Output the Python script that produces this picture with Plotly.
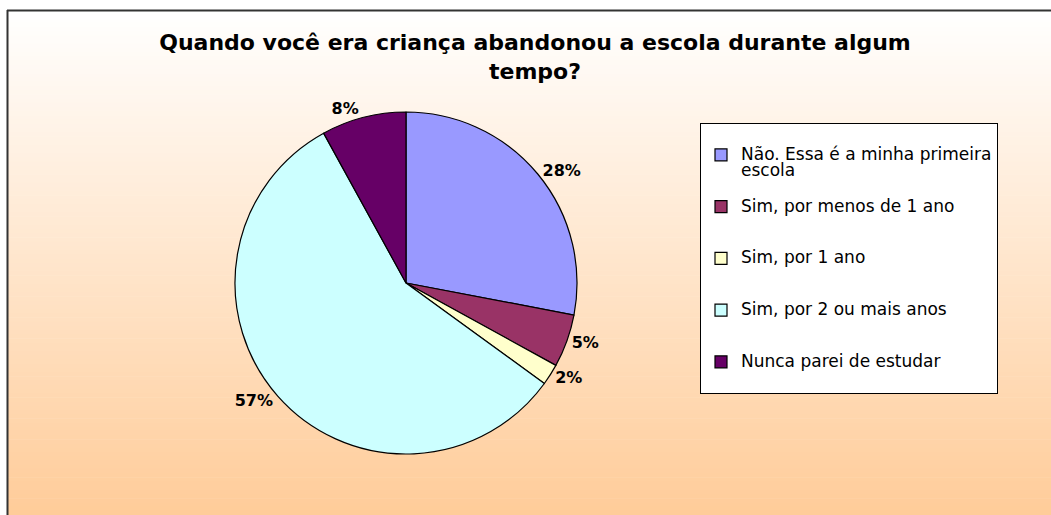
import plotly.graph_objects as go

# ---- data ----
categories = [
    "Não. Essa é a minha primeira<br>escola",
    "Sim, por menos de 1 ano",
    "Sim, por 1 ano",
    "Sim, por 2 ou mais anos",
    "Nunca parei de estudar",
]
values = [28, 5, 2, 57, 8]
colors = ["#9999FF", "#993366", "#FFFFCC", "#CCFFFF", "#660066"]
title_text = "Quando você era criança abandonou a escola durante algum<br>tempo?"

W, H = 1051, 515
NB = "\u00a0"
LEG_TXT = 17

# legend labels: pad with blank lines so entries are spaced like the original
span = "<span style='font-size:%spx'>" % LEG_TXT
legend_labels = []
for c in categories:
    if "<br>" in c:
        legend_labels.append(NB + "<br>" + span + c.replace("<br>", "</span><br>" + span) + "</span>")
    else:
        legend_labels.append(NB + "<br>" + span + c + "</span><br>" + NB)

# pie geometry (pixels)
cx, cy, d = 406, 283, 342

fig = go.Figure()
fig.add_trace(go.Pie(
    labels=legend_labels,
    values=values,
    sort=False,
    direction="clockwise",
    rotation=0,
    marker=dict(colors=colors, line=dict(color="black", width=1.2)),
    textinfo="percent",
    textposition="outside",
    textfont=dict(family="DejaVu Sans", size=16, color="black", weight="bold"),
    domain=dict(x=[(cx - d / 2) / W, (cx + d / 2) / W],
                y=[(H - cy - d / 2) / H, (H - cy + d / 2) / H]),
    hoverinfo="label+percent",
))

# background gradient (white -> light orange) below the top border
shapes = []
top_px = 10
n = 120
c0 = (255, 255, 255)
c1 = (255, 204, 153)
for i in range(n):
    y0p = top_px + (H - top_px) * i / n
    y1p = top_px + (H - top_px) * (i + 1) / n + 0.6
    t = (i + 0.5) / n
    col = tuple(round(a + (b - a) * t) for a, b in zip(c0, c1))
    shapes.append(dict(type="rect", xref="paper", yref="paper", layer="below",
                       x0=7 / W, x1=1.0, y0=1 - y1p / H, y1=1 - y0p / H,
                       fillcolor="rgb(%d,%d,%d)" % col, line=dict(width=0)))
# chart area border (top and left)
shapes.append(dict(type="line", xref="paper", yref="paper", layer="above",
                   x0=7 / W, x1=1.0, y0=1 - 10.5 / H, y1=1 - 10.5 / H,
                   line=dict(color="#333333", width=2)))
shapes.append(dict(type="line", xref="paper", yref="paper", layer="above",
                   x0=7.5 / W, x1=7.5 / W, y0=0, y1=1 - 10 / H,
                   line=dict(color="#333333", width=2)))

fig.update_layout(
    width=W, height=H,
    margin=dict(l=0, r=0, t=0, b=0),
    paper_bgcolor="white",
    plot_bgcolor="rgba(0,0,0,0)",
    shapes=shapes,
    title=dict(text=title_text, x=535 / W, xanchor="center",
               y=1 - 50 / H, yanchor="top", yref="container",
               font=dict(family="DejaVu Sans", size=22, color="black", weight="bold")),
    legend=dict(x=700 / W, xanchor="left", y=1 - 123 / H, yanchor="top",
                bgcolor="white", bordercolor="black", borderwidth=1,
                font=dict(family="DejaVu Sans", size=12.5, color="black"),
                itemwidth=30, traceorder="normal"),
    showlegend=True,
)

fig.write_html("out.html", config={"displayModeBar": False},
               post_script="document.body.style.margin='0';")
